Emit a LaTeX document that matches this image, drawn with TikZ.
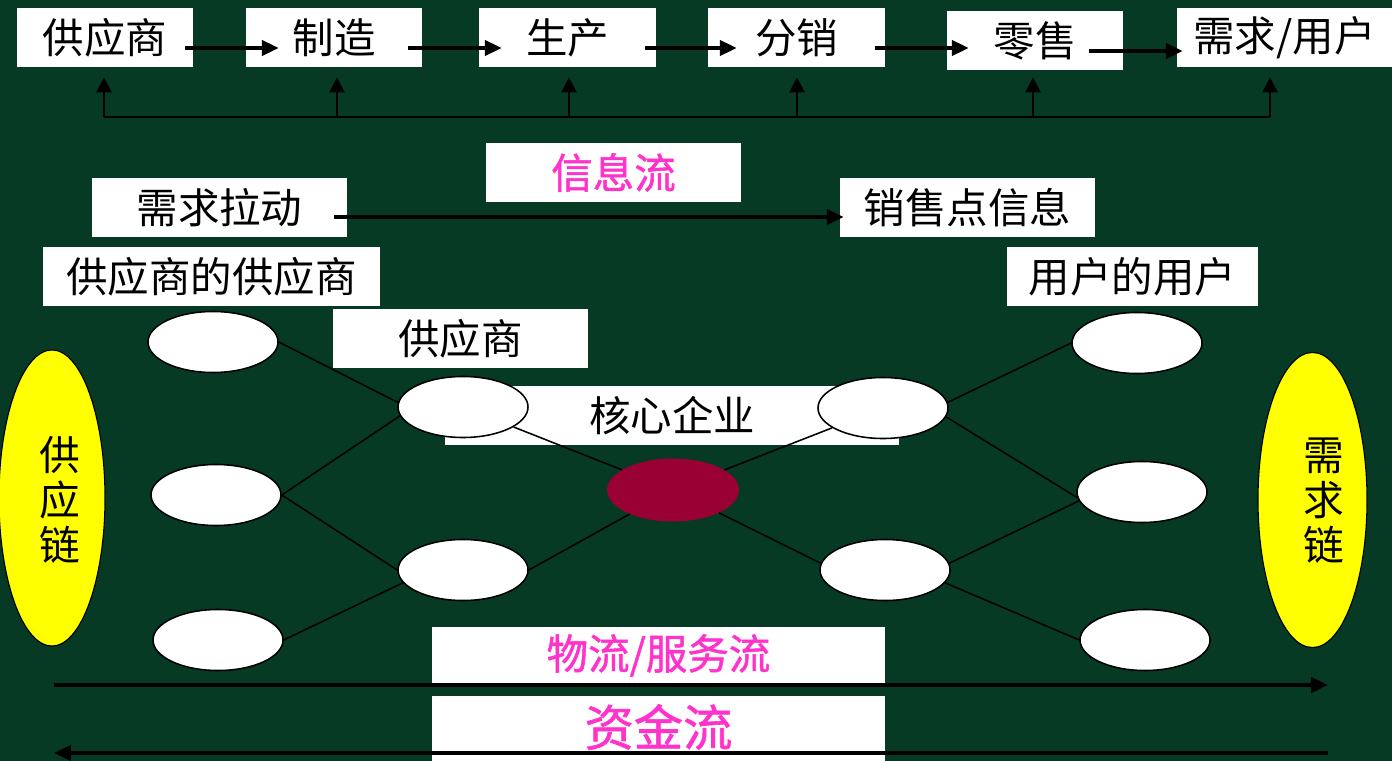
\documentclass[tikz,border=0pt]{standalone}
\usepackage{fontspec}
\newfontfamily\cjk{Noto Sans CJK SC}
\newfontfamily\cjkb[FakeBold=1.2]{Noto Sans CJK SC}
\usetikzlibrary{shapes.geometric,arrows.meta}
\definecolor{bg}{RGB}{6,58,36}
\definecolor{corered}{RGB}{153,0,51}
\definecolor{mag}{RGB}{255,51,204}
\definecolor{ylw}{RGB}{255,255,0}
\begin{document}
\begin{tikzpicture}[x=0.025cm,y=-0.025cm,
  lbl/.style={rectangle,fill=white,inner sep=0pt,text=black,
    font=\cjk\fontsize{29.5}{34}\selectfont,minimum height=1.475cm},
  maglbl/.style={lbl,text=mag,font=\cjkb\fontsize{29.5}{34}\selectfont},
  ell/.style={ellipse,draw=black,line width=1.1pt,fill=white,inner sep=0pt,
    minimum width=3.25cm,minimum height=1.525cm},
  yell/.style={ellipse,draw=black,line width=0.8pt,fill=ylw,inner sep=0pt},
  vtext/.style={align=center,inner sep=0pt,text=black,
    font=\cjk\fontsize{29}{32}\selectfont},
  arr/.style={line width=2.4pt,-{Triangle[length=0.42cm,width=0.38cm]}},
  varr/.style={line width=1.8pt,-{Triangle[length=0.38cm,width=0.38cm]}},
  conn/.style={line width=1.1pt}]
\useasboundingbox (0,0) rectangle (1392,761);
\fill[bg] (0,0) rectangle (1392,761);

% top row
\node[lbl,minimum width=4.4cm] (s1) at (105,37.5) {供应商};
\node[lbl,minimum width=4.4cm] (s2) at (334,37.5) {制造};
\node[lbl,minimum width=4.425cm] (s3) at (567.5,37.5) {生产};
\node[lbl,minimum width=4.425cm] (s4) at (796.5,37.5) {分销};
\node[lbl,minimum width=4.4cm] (s5) at (1035,40.5) {零售};
\node[lbl,minimum width=5.375cm] (s6) at (1284.5,37.5) {需求/用户};

\draw[arr] ([shift={(-8,10.5)}]s1.east) -- ([shift={(33,10.5)}]s2.west);
\draw[arr] ([shift={(-14,10.5)}]s2.east) -- ([shift={(23,10.5)}]s3.west);
\draw[arr] ([shift={(-11,10.5)}]s3.east) -- ([shift={(29,10.5)}]s4.west);
\draw[arr] ([shift={(-10,10.5)}]s4.east) -- ([shift={(22,7.5)}]s5.west);
\draw[arr] ([shift={(-34,10.5)}]s5.east) -- ([shift={(6,13.5)}]s6.west);

% information bus
\coordinate (b1) at (104,117);
\coordinate (b2) at (337,117);
\coordinate (b3) at (569,117);
\coordinate (b4) at (797,117);
\coordinate (b5) at (1033,117);
\coordinate (b6) at (1270,117);
\draw[line width=1.8pt] (b1) -- (b6);
\draw[varr,shorten >=0.25cm] (b1) -- (b1 |- s1.south);
\draw[varr,shorten >=0.25cm] (b2) -- (b2 |- s2.south);
\draw[varr,shorten >=0.25cm] (b3) -- (b3 |- s3.south);
\draw[varr,shorten >=0.25cm] (b4) -- (b4 |- s4.south);
\draw[varr,shorten >=0.175cm] (b5) -- (b5 |- s5.south);
\draw[varr,shorten >=0.25cm] (b6) -- (b6 |- s6.south);

% second area labels
\node[maglbl,minimum width=6.375cm] (info) at (613.5,172.5) {信息流};
\node[lbl,minimum width=6.375cm] (pull) at (219.5,207.5) {需求拉动};
\node[lbl,minimum width=6.375cm] (pos) at (967.5,207.5) {销售点信息};
\draw[arr] ([shift={(-13,9.5)}]pull.east) -- ([shift={(4,9.5)}]pos.west);
\node[lbl,minimum width=8.425cm] (ss) at (211.5,276.5) {供应商的供应商};
\node[lbl,minimum width=6.375cm] (sp) at (460.5,338.5) {供应商};
\node[lbl,minimum width=6.275cm] (cc) at (1132.5,276.5) {用户的用户};
\node[lbl,minimum width=11.35cm] (ce) at (672,415.5) {核心企业};

% yellow chain ellipses
\node[yell,minimum width=2.65cm,minimum height=7.4cm] (ychainL) at (52,498) {};
\node[yell,minimum width=2.725cm,minimum height=7.375cm] (ychainR) at (1312.5,500) {};
\node[vtext] (tL) at (60,500) {供\\应\\链};
\node[vtext] (tR) at (1324,501) {需\\求\\链};

% network ellipses
\node[ell] (l1a) at (213,342) {};
\node[ell] (l1b) at (216,495) {};
\node[ell] (l1c) at (218,640) {};
\node[ell] (l2a) at (463,407) {};
\node[ell] (l2b) at (463,570) {};
\node[ellipse,fill=corered,inner sep=0pt,minimum width=3.3cm,minimum height=1.575cm] (core) at (673,490) {};
\node[ell] (r2a) at (883,408) {};
\node[ell] (r2b) at (885,570) {};
\node[ell] (r3a) at (1137,343) {};
\node[ell] (r3b) at (1142,492) {};
\node[ell] (r3c) at (1145,640) {};

\draw[conn] (l1a.east) -- (l2a.176);
\draw[conn] (l1b.east) -- (l2a.188);
\draw[conn] (l1b.east) -- (l2b.west);
\draw[conn] (l1c.east) -- (l2b.192);
\draw[conn] (l2a) -- (core);
\draw[conn] (l2b.east) -- (core);
\draw[conn] (core) -- (r2a);
\draw[conn] (core) -- (r2b.174);
\draw[conn] (r2a.5) -- (r3a.west);
\draw[conn] (r2a.352) -- (r3b.185);
\draw[conn] (r2b.6) -- (r3b.188);
\draw[conn] (r2b.348) -- (r3c.west);

% flows
\node[maglbl,minimum width=11.325cm,minimum height=1.425cm] (logi) at (658.5,655.5) {物流/服务流};
\node[maglbl,minimum width=11.325cm,minimum height=1.7cm,
  font=\cjkb\fontsize{35}{40}\selectfont] (fund) at (658.5,730) {\raisebox{0.25cm}{资金流}};
\coordinate (wl) at (54,685);
\coordinate (wr) at (1328,685);
\coordinate (fl) at (54,753);
\coordinate (fr) at (1328,753);
\draw[arr] (wl) -- (wr);
\draw[arr] (fr) -- (fl);
\end{tikzpicture}
\end{document}
